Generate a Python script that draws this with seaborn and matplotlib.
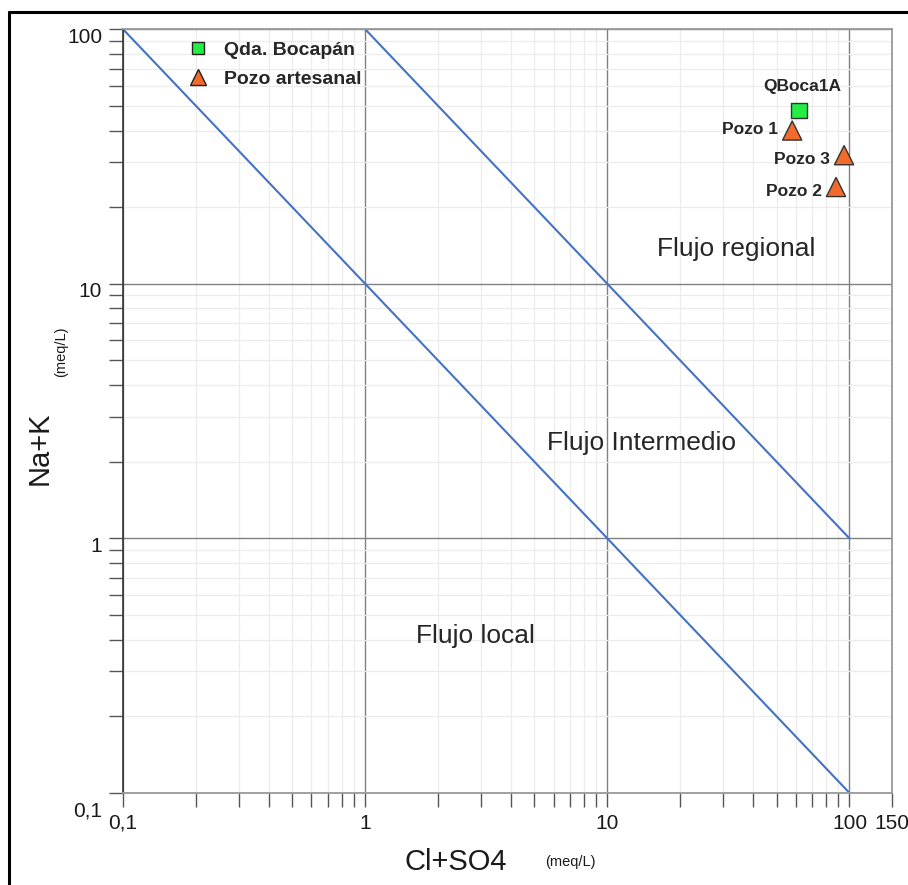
import numpy as np
import pandas as pd
import matplotlib
matplotlib.use("Agg")
import matplotlib.pyplot as plt
import matplotlib.ticker as mticker
import matplotlib.transforms as mtransforms
from matplotlib.lines import Line2D
import seaborn as sns

# ---- data ----
sample_names = ["QBoca1A", "Pozo 1", "Pozo 2", "Pozo 3"]
sample_types = ["Qda. Bocapán", "Pozo artesanal", "Pozo artesanal", "Pozo artesanal"]
cl_so4 = [62, 58, 88, 95]
na_k = [48, 40, 24, 32]

boundary_x = [0.1, 100]
boundary_lower_y = [100, 0.1]
boundary_upper_x = [1, 100]
boundary_upper_y = [100, 1]

zone_labels = ["Flujo regional", "Flujo Intermedio", "Flujo local"]
zone_x = [34, 13.8, 2.86]
zone_y = [13.7, 2.37, 0.414]

x_ticks = [0.1, 1, 10, 100, 150]
x_ticklabels = ["0,1", "1", "10", "100", "150"]
y_ticks = [0.1, 1, 10, 100]
y_ticklabels = ["0,1", "1", "10", "100"]

df = pd.DataFrame({"name": sample_names, "type": sample_types, "x": cl_so4, "y": na_k})

sns.set_style("white")
plt.rcParams["font.family"] = ["Liberation Sans", "DejaVu Sans"]

fig = plt.figure(figsize=(9.08, 8.85), dpi=100)
ax = fig.add_axes([0.1355, 0.104, 0.847, 0.863])
ax.set_xscale("log")
ax.set_yscale("log")
ax.set_xlim(0.1, 150)
ax.set_ylim(0.1, 100)

# grid
ax.grid(True, which="major", color="#808080", lw=1.0, zorder=0)
ax.grid(True, which="minor", color="#ececec", lw=0.9, zorder=0)
ax.set_axisbelow(True)

# boundary lines
line_col = "#4472C4"
ax.plot(boundary_x, boundary_lower_y, color=line_col, lw=1.5, zorder=2)
ax.plot(boundary_upper_x, boundary_upper_y, color=line_col, lw=1.5, zorder=2)

palette = {"Qda. Bocapán": "#22EE44", "Pozo artesanal": "#F26B2A"}
markers = {"Qda. Bocapán": "s", "Pozo artesanal": "^"}
sizes = {"Qda. Bocapán": 125, "Pozo artesanal": 190}
sns.scatterplot(data=df, x="x", y="y", hue="type", style="type", size="type",
                palette=palette, markers=markers, sizes=sizes,
                edgecolor="#333333", linewidth=1.0, ax=ax, zorder=4, legend=False)
ax.set_xlabel("")
ax.set_ylabel("")

# point labels
lab_off = {"QBoca1A": (2, 12, "center", "bottom"), "Pozo 1": (-10, 1, "right", "center"),
           "Pozo 2": (-10, -3, "right", "center"), "Pozo 3": (-10, -3, "right", "center")}
for n, xv, yv in zip(sample_names, cl_so4, na_k):
    dx, dy, ha, va = lab_off[n]
    ax.annotate(n, (xv, yv), xytext=(dx, dy), textcoords="offset points",
                ha=ha, va=va, fontsize=12.5, fontweight="bold", zorder=5)

for t, xv, yv in zip(zone_labels, zone_x, zone_y):
    ax.text(xv, yv, t, fontsize=19, ha="center", va="center", zorder=3)

# legend
handles = [Line2D([], [], marker=markers[k], color="none", markerfacecolor=palette[k],
                  markeredgecolor="#222222", markersize=(9 if markers[k] == "s" else 11),
                  markeredgewidth=1.0)
           for k in palette]
leg = ax.legend(handles, list(palette.keys()), loc="upper left",
                bbox_to_anchor=(0.062, 1.007), frameon=False, handlelength=1.0,
                handletextpad=0.85, labelspacing=0.6,
                prop={"weight": "bold", "size": 14})

# ticks
ax.xaxis.set_major_locator(mticker.FixedLocator(x_ticks))
ax.xaxis.set_major_formatter(mticker.FixedFormatter(x_ticklabels))
ax.yaxis.set_major_locator(mticker.FixedLocator(y_ticks))
ax.yaxis.set_major_formatter(mticker.FixedFormatter(y_ticklabels))
ax.xaxis.set_minor_locator(mticker.LogLocator(base=10, subs=np.arange(2, 10)))
ax.yaxis.set_minor_locator(mticker.LogLocator(base=10, subs=np.arange(2, 10)))
ax.xaxis.set_minor_formatter(mticker.NullFormatter())
ax.yaxis.set_minor_formatter(mticker.NullFormatter())
ax.tick_params(which="both", direction="out", length=10, width=1.0, color="#555555",
               bottom=True, left=True, top=False, right=False)
ax.tick_params(axis="both", which="major", labelsize=15, labelcolor="#1a1a1a")
ax.tick_params(axis="x", which="major", pad=5)
ax.tick_params(axis="y", which="major", pad=5)

# y tick labels sit slightly below their ticks, as in the reference
for tick, lab in zip(ax.yaxis.get_major_ticks(), y_ticklabels):
    shift = -16 if lab == "0,1" else -6
    off = mtransforms.ScaledTranslation(0, shift / 100, fig.dpi_scale_trans)
    tick.label1.set_transform(tick.label1.get_transform() + off)

ax.spines["left"].set_color("#333333")
ax.spines["left"].set_linewidth(1.2)
for side in ["bottom", "top", "right"]:
    ax.spines[side].set_color("#9a9a9a")
    ax.spines[side].set_linewidth(1.3)

# axis labels
fig.text(0.502, 0.026, "Cl+SO4", fontsize=21, ha="center", va="center", color="#1a1a1a")
fig.text(0.628, 0.026, "(meq/L)", fontsize=10.5, ha="center", va="center", color="#1a1a1a")
fig.text(0.044, 0.494, "Na+K", fontsize=21, rotation=90, ha="center", va="center", color="#1a1a1a")
fig.text(0.067, 0.602, "(meq/L)", fontsize=10.5, rotation=90, ha="center", va="center", color="#1a1a1a")

# outer frame (top and left)
fig.add_artist(Line2D([0.0099, 0.0099], [0.0, 0.9865], transform=fig.transFigure, color="black", lw=2.2))
fig.add_artist(Line2D([0.0099, 1.0], [0.9865, 0.9865], transform=fig.transFigure, color="black", lw=2.2))

fig.savefig("out.png", dpi=100)
